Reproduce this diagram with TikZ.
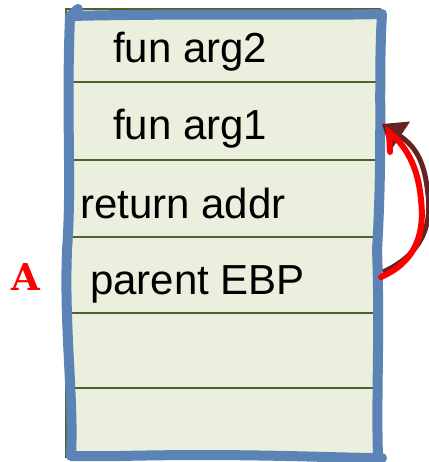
\documentclass[tikz,border=0pt]{standalone}
\usepackage{fontspec}
\setmainfont{Liberation Sans}
\newfontfamily\slabfont{DejaVu Serif}
\usetikzlibrary{arrows.meta}
\begin{document}
\begin{tikzpicture}[x=1pt,y=-1pt,
  cellfill/.style={fill=cellbg},
  rowline/.style={draw=rowgreen,line width=2.6pt},
  frame/.style={draw=frameblue,line width=10pt,line cap=round,line join=round},
  label/.style={inner sep=0pt,anchor=base west,font=\fontsize{42}{48}\selectfont},
]
\definecolor{cellbg}{HTML}{EBEFDE}
\definecolor{rowgreen}{HTML}{4F6228}
\definecolor{frameblue}{HTML}{5B83B6}
\definecolor{arrowred}{HTML}{FF0000}
\definecolor{arrowdark}{HTML}{632423}
\useasboundingbox (0,0) rectangle (428,462);

% stack body
\draw[cellfill,draw=rowgreen,line width=2pt] (66,9) rectangle (380,457);
\foreach \y in {82,160,237,313,388}
  \draw[rowline] (66,\y) -- (380,\y);

% hand-drawn frame
\draw[frame] (78,9) .. controls (74,12) .. (70,16)
  .. controls (66,120) and (72,180) .. (67,250)
  .. controls (64,330) and (74,400) .. (71,456)
  -- (120,456) .. controls (250,453) and (330,458) .. (382,458);
\draw[frame] (70,16) .. controls (200,13) and (300,16) .. (382,14)
  .. controls (378,80) and (383,150) .. (377,250)
  .. controls (380,330) and (376,400) .. (378,456);

% cell contents
\node[label] (arg2) at (113,63) {fun arg2};
\node[label] (arg1) at (113,140) {fun arg1};
\node[label] (ret)  at (80,218) {return addr};
\node[label] (ebp)  at (90,294) {parent EBP};
\node[inner sep=0pt,anchor=base,text=arrowred,
  font=\slabfont\bfseries\fontsize{37}{40}\selectfont] (A) at (26,290) {A};

% saved frame pointer link
\coordinate (from) at (381,277);
\coordinate (to) at (382,124);
\draw[arrowdark,line width=5pt,-{Triangle[length=22pt,width=34pt]}]
  (383,272) .. controls (420,255) and (432,228) .. (428,195)
  .. controls (425,165) and (418,148) .. (to);
\draw[arrowred,line width=6pt,line cap=round]
  (from) .. controls (415,262) and (425,235) .. (421,200)
  .. controls (418,165) and (405,145) .. (389,132) -- (390,152);
\end{tikzpicture}
\end{document}
